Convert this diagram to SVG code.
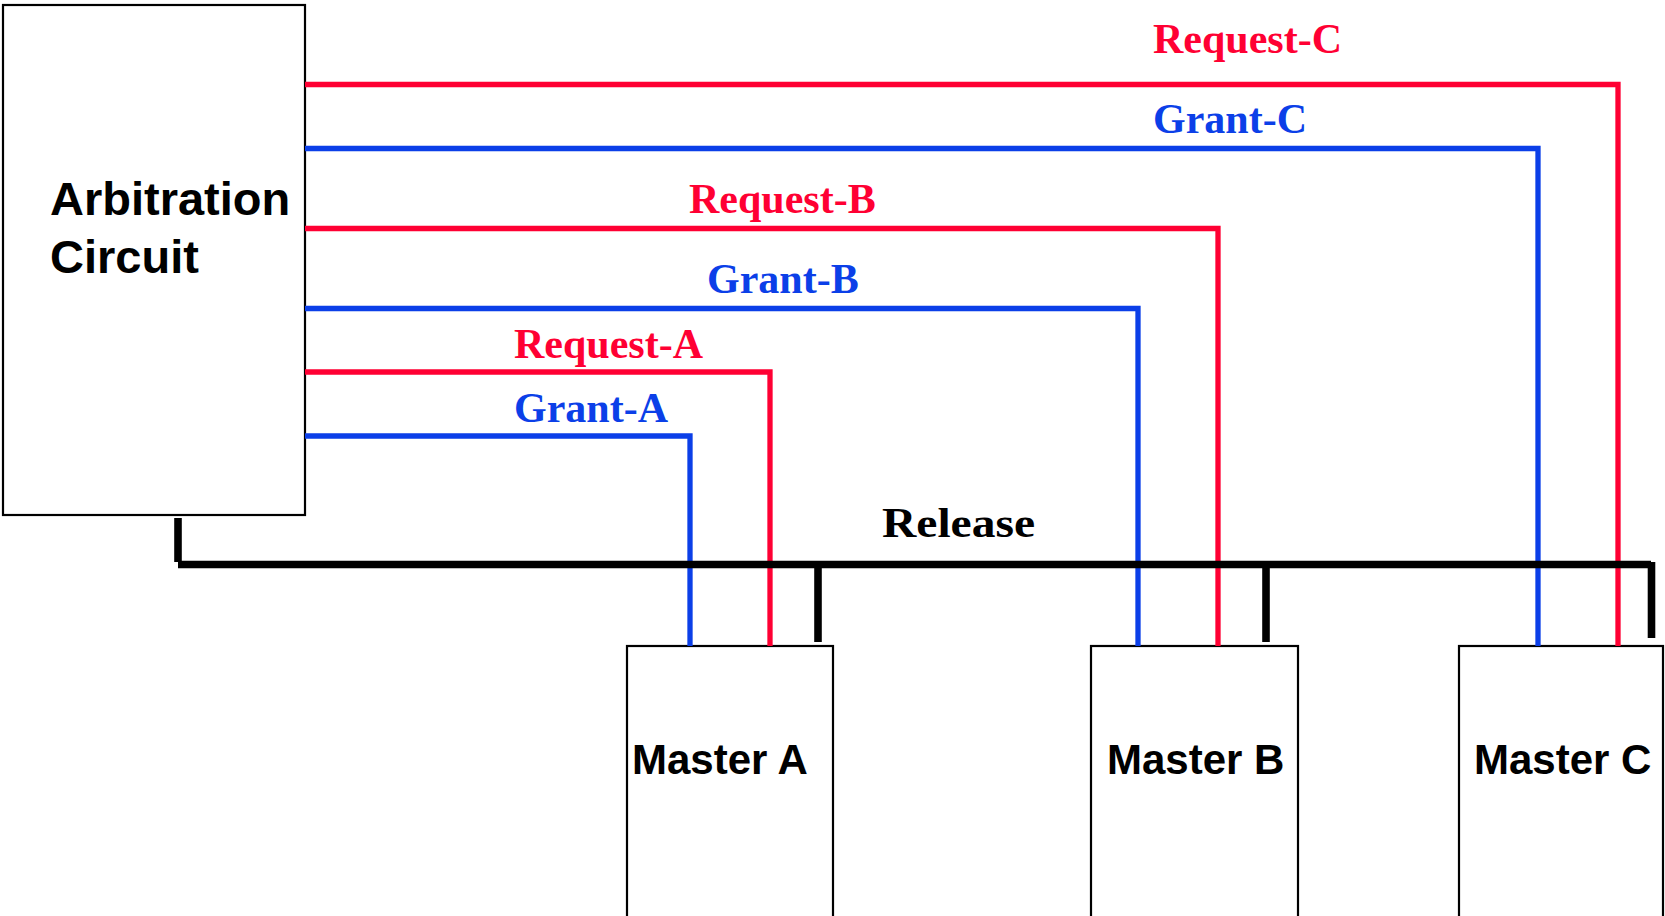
<svg xmlns="http://www.w3.org/2000/svg" width="1665" height="916" viewBox="0 0 1665 916">
  <style>
    .box { fill: #ffffff; stroke: #000000; stroke-width: 2.2; }
    .title { font-family: "Liberation Sans", Arial, sans-serif; font-weight: bold; fill: #000000; }
    .sig { font-family: "Liberation Serif", "Times New Roman", serif; font-weight: bold; font-size: 42px; }
    .req { fill: none; stroke: #ff0033; stroke-width: 5.3; stroke-linejoin: miter; }
    .gnt { fill: none; stroke: #0b3fe8; stroke-width: 5.3; stroke-linejoin: miter; }
    .rel { fill: none; stroke: #000000; stroke-width: 7.6; stroke-linejoin: miter; }
    .req-t { fill: #ff0033; }
    .gnt-t { fill: #0b3fe8; }
  </style>

  <rect width="1665" height="916" fill="#ffffff"/>

  <!-- Arbiter -->
  <g id="arbitration-circuit">
    <rect class="box" x="3" y="5" width="302" height="510"/>
    <text class="title" font-size="47" x="50" y="215">Arbitration</text>
    <text class="title" font-size="47" x="50" y="273">Circuit</text>
  </g>

  <!-- Bus masters -->
  <g id="master-a">
    <rect class="box" x="627" y="646" width="206" height="272"/>
    <text class="title" font-size="42" x="632" y="774">Master A</text>
  </g>
  <g id="master-b">
    <rect class="box" x="1091" y="646" width="207" height="272"/>
    <text class="title" font-size="42" x="1107" y="774">Master B</text>
  </g>
  <g id="master-c">
    <rect class="box" x="1459" y="646" width="204" height="272"/>
    <text class="title" font-size="42" x="1474" y="774">Master C</text>
  </g>

  <!-- Request / grant / release wiring -->
  <g id="connectors">
    <polyline class="req" points="305,84.5 1618,84.5 1618,646"/>
    <polyline class="gnt" points="305,148.5 1538,148.5 1538,646"/>
    <polyline class="req" points="305,228.5 1218,228.5 1218,646"/>
    <polyline class="gnt" points="305,308.5 1138,308.5 1138,646"/>
    <polyline class="req" points="305,372 770,372 770,646"/>
    <polyline class="gnt" points="305,436 690,436 690,646"/>

    <!-- shared release line -->
    <line class="rel" x1="178" y1="518" x2="178" y2="562"/>
    <line class="rel" x1="178" y1="564.5" x2="1651" y2="564.5"/>
    <line class="rel" x1="1651.5" y1="562" x2="1651.5" y2="638"/>
    <line class="rel" x1="818" y1="564" x2="818" y2="642"/>
    <line class="rel" x1="1266" y1="564" x2="1266" y2="642"/>

    <text class="sig req-t" x="1153" y="53">Request-C</text>
    <text class="sig gnt-t" x="1153" y="133">Grant-C</text>
    <text class="sig req-t" x="689" y="213">Request-B</text>
    <text class="sig gnt-t" x="707" y="293">Grant-B</text>
    <text class="sig req-t" x="514" y="358">Request-A</text>
    <text class="sig gnt-t" x="514" y="422">Grant-A</text>
    <text class="sig" font-size="47" x="882" y="537" fill="#000000" textLength="153" lengthAdjust="spacingAndGlyphs">Release</text>
  </g>
</svg>
